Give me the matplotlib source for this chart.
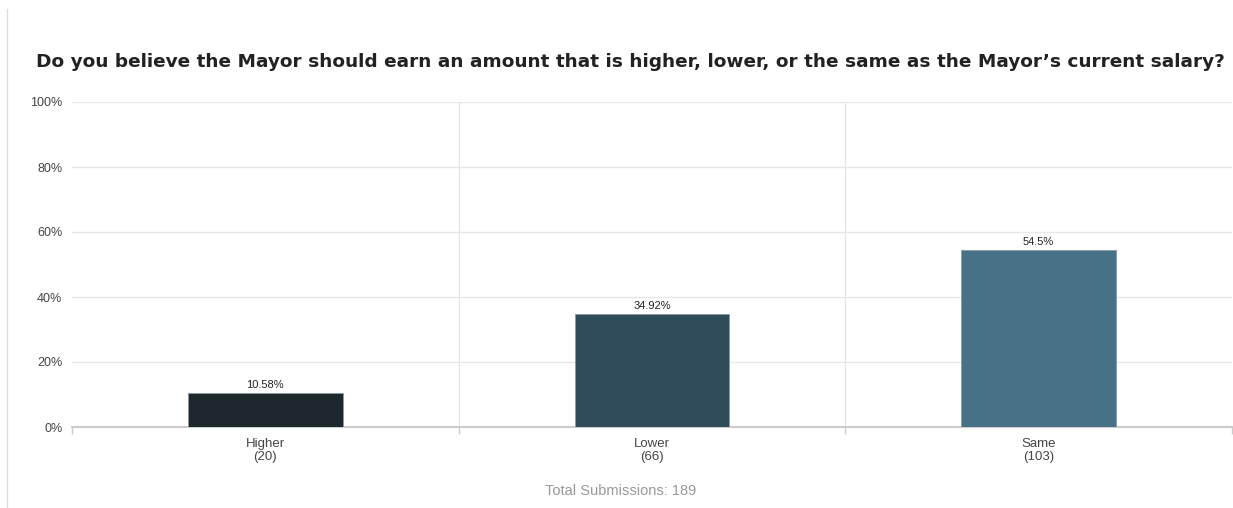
import matplotlib.pyplot as plt
import numpy as np

categories = ['Higher', 'Lower', 'Same']
counts = [20, 66, 103]
percents = [10.58, 34.92, 54.5]
total = 189
colors = ['#1c272e', '#304c5a', '#467186']
title = 'Do you believe the Mayor should earn an amount that is higher, lower, or the same as the Mayor\u2019s current salary?'

plt.rcParams['font.family'] = ['Liberation Sans', 'DejaVu Sans']

fig = plt.figure(figsize=(12.33, 5.08), dpi=100)
ax = fig.add_axes([72 / 1233, 1 - 427 / 508, 1160 / 1233, 325 / 508])

x = np.arange(len(categories))
bars = ax.bar(x, percents, width=0.4, color=colors, edgecolor='#8a9aa3',
              linewidth=0.6, zorder=3)
for b, p in zip(bars, percents):
    ax.text(b.get_x() + b.get_width() / 2, p + 0.8, '{:g}%'.format(p),
            ha='center', va='bottom', fontsize=8, color='#222222')

ax.set_xlim(-0.5, len(categories) - 0.5)
ax.set_ylim(0, 100)
ax.set_yticks(range(0, 101, 20))
ax.set_yticklabels(['{}%'.format(v) for v in range(0, 101, 20)], fontsize=9, color='#444444')
ax.yaxis.grid(True, color='#e8e8e8', lw=1, zorder=0)
ax.tick_params(axis='y', length=0, pad=7)

# category separators
for b in np.arange(0.5, len(categories) - 0.5, 1):
    ax.axvline(b, color='#e4e4e4', lw=0.9, zorder=1)
ax.set_xticks(np.arange(-0.5, len(categories), 1), minor=False)
ax.set_xticklabels([])
ax.tick_params(axis='x', length=5, color='#cccccc', width=1)
ax.set_xticks(x, minor=True)
ax.set_xticklabels(['{}\n({})'.format(c, n) for c, n in zip(categories, counts)],
                   minor=True, fontsize=9.5, color='#444444', linespacing=1.05)
ax.tick_params(axis='x', which='minor', length=0, pad=8)

for s in ['top', 'right', 'left']:
    ax.spines[s].set_visible(False)
ax.spines['bottom'].set_color('#cccccc')
ax.spines['bottom'].set_linewidth(1.5)

fig.text(630 / 1233, 1 - 62 / 508, title, ha='center', va='center',
         fontsize=13.3, fontweight='bold', color='#222222', family='DejaVu Sans')
fig.text(621 / 1233, 1 - 491 / 508, 'Total Submissions: {}'.format(total),
         ha='center', va='center', fontsize=10.5, color='#999999')

fig.add_artist(plt.Line2D([7 / 1233, 7 / 1233], [0, 1 - 9 / 508],
                          color='#dddddd', lw=1, transform=fig.transFigure))

fig.savefig('out.png', dpi=100, facecolor='white')
